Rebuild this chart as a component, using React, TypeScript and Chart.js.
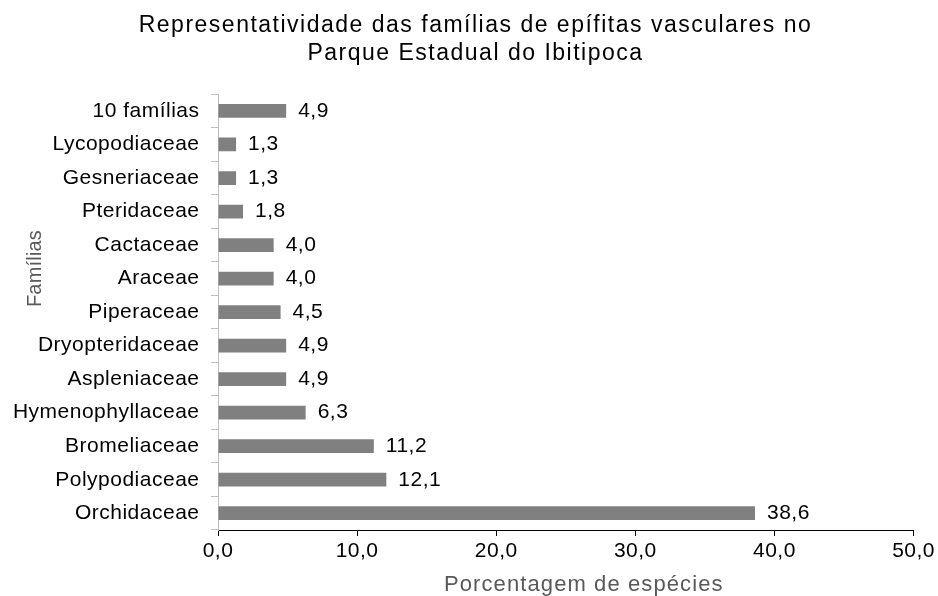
import React, { useEffect, useRef } from "react";
import { Chart, registerables } from "chart.js";

Chart.register(...registerables);

// ---- data ----
const families = [
  "10 famílias",
  "Lycopodiaceae",
  "Gesneriaceae",
  "Pteridaceae",
  "Cactaceae",
  "Araceae",
  "Piperaceae",
  "Dryopteridaceae",
  "Aspleniaceae",
  "Hymenophyllaceae",
  "Bromeliaceae",
  "Polypodiaceae",
  "Orchidaceae",
];
const percentages = [4.9, 1.3, 1.3, 1.8, 4.0, 4.0, 4.5, 4.9, 4.9, 6.3, 11.2, 12.1, 38.6];
const xTickValues = [0, 10, 20, 30, 40, 50];
const chartTitle = [
  "Representatividade das famílias de epífitas vasculares no",
  "Parque Estadual do Ibitipoca",
];
const xAxisTitle = "Porcentagem de espécies";
const yAxisTitle = "Famílias";

// ---- style ----
const FONT = "'Liberation Sans', Arial, sans-serif";
// letter spacing (px) used for each font size
const SPACING: Record<number, number> = { 20: 0.2, 21: 0.5, 22: 1.1, 23: 1.5 };

const fmt = (v: number) => v.toFixed(1).replace(".", ",");

function applyLetterSpacing(ctx: any) {
  const desc = Object.getOwnPropertyDescriptor(CanvasRenderingContext2D.prototype, "font");
  if (!desc || !desc.get || !desc.set) return;
  Object.defineProperty(ctx, "font", {
    configurable: true,
    get() {
      return desc.get!.call(this);
    },
    set(v: string) {
      desc.set!.call(this, v);
      const m = /(\d+(?:\.\d+)?)px/.exec(String(v));
      const size = m ? parseFloat(m[1]) : 0;
      const ls = SPACING[size] ?? 0;
      if ("letterSpacing" in this) (this as any).letterSpacing = ls + "px";
    },
  });
}

const valueLabels = {
  id: "valueLabels",
  afterDatasetsDraw(chart: any) {
    const ctx = chart.ctx;
    const meta = chart.getDatasetMeta(0);
    ctx.save();
    ctx.font = `21px ${FONT}`;
    ctx.fillStyle = "#000";
    ctx.textAlign = "left";
    ctx.textBaseline = "middle";
    meta.data.forEach((bar: any, i: number) => {
      ctx.fillText(fmt(percentages[i]), bar.x + 12, bar.y);
    });
    ctx.restore();
  },
};

const axisTitles = {
  id: "axisTitles",
  afterDraw(chart: any) {
    const ctx = chart.ctx;
    const area = chart.chartArea;
    const yScale = chart.scales.y;
    ctx.save();
    ctx.fillStyle = "#595959";
    ctx.textAlign = "center";
    ctx.textBaseline = "middle";
    // x axis title
    ctx.font = `22px ${FONT}`;
    ctx.fillText(xAxisTitle, (area.left + area.right) / 2 + 18, chart.height - 11);
    // y axis title
    ctx.font = `20px ${FONT}`;
    ctx.translate(yScale.left + 22, area.top + (area.bottom - area.top) * 0.4);
    ctx.rotate(-Math.PI / 2);
    ctx.fillText(yAxisTitle, 0, 0);
    ctx.restore();
  },
};

export default function App() {
  const ref = useRef<HTMLCanvasElement | null>(null);

  useEffect(() => {
    const canvas = ref.current;
    if (!canvas) return;
    const ctx = canvas.getContext("2d");
    applyLetterSpacing(ctx);

    const chart = new Chart(canvas, {
      type: "bar",
      data: {
        labels: families,
        datasets: [
          {
            data: percentages,
            backgroundColor: "#808080",
            borderWidth: 0,
            barPercentage: 0.41,
            categoryPercentage: 1,
          },
        ],
      },
      options: {
        indexAxis: "y",
        responsive: false,
        animation: false,
        layout: { padding: { left: 13, right: 0, top: 0, bottom: 0 } },
        plugins: {
          legend: { display: false },
          tooltip: { enabled: false },
          title: {
            display: true,
            text: chartTitle,
            color: "#000",
            font: { family: FONT, size: 23, weight: "normal", lineHeight: 1.2 },
            padding: { top: 12, bottom: 27 },
          },
        },
        scales: {
          x: {
            type: "linear",
            min: 0,
            max: 50,
            afterBuildTicks: (scale: any) => {
              scale.ticks = xTickValues.map((v) => ({ value: v }));
            },
            afterFit: (scale: any) => {
              scale.height = 66;
            },
            ticks: {
              color: "#000",
              font: { family: FONT, size: 21 },
              padding: 3,
              callback: (v: any) => fmt(Number(v)),
            },
            grid: {
              drawOnChartArea: false,
              drawTicks: true,
              tickLength: 6,
              color: "#000",
            },
            border: { color: "#000", width: 1 },
          },
          y: {
            type: "category",
            afterFit: (scale: any) => {
              scale.width = 205;
            },
            ticks: {
              color: "#000",
              font: { family: FONT, size: 21 },
              padding: 11.5,
            },
            grid: {
              offset: true,
              drawOnChartArea: false,
              drawTicks: true,
              tickLength: 7,
              color: "#bfbfbf",
            },
            border: { color: "#bfbfbf", width: 1 },
          },
        },
      },
      plugins: [valueLabels, axisTitles],
    } as any);

    return () => chart.destroy();
  }, []);

  return (
    <div style={{ position: "fixed", left: 0, top: 0, width: 938, height: 596, background: "#fff" }}>
      <canvas ref={ref} width={938} height={596} style={{ display: "block", width: 938, height: 596 }} />
    </div>
  );
}
